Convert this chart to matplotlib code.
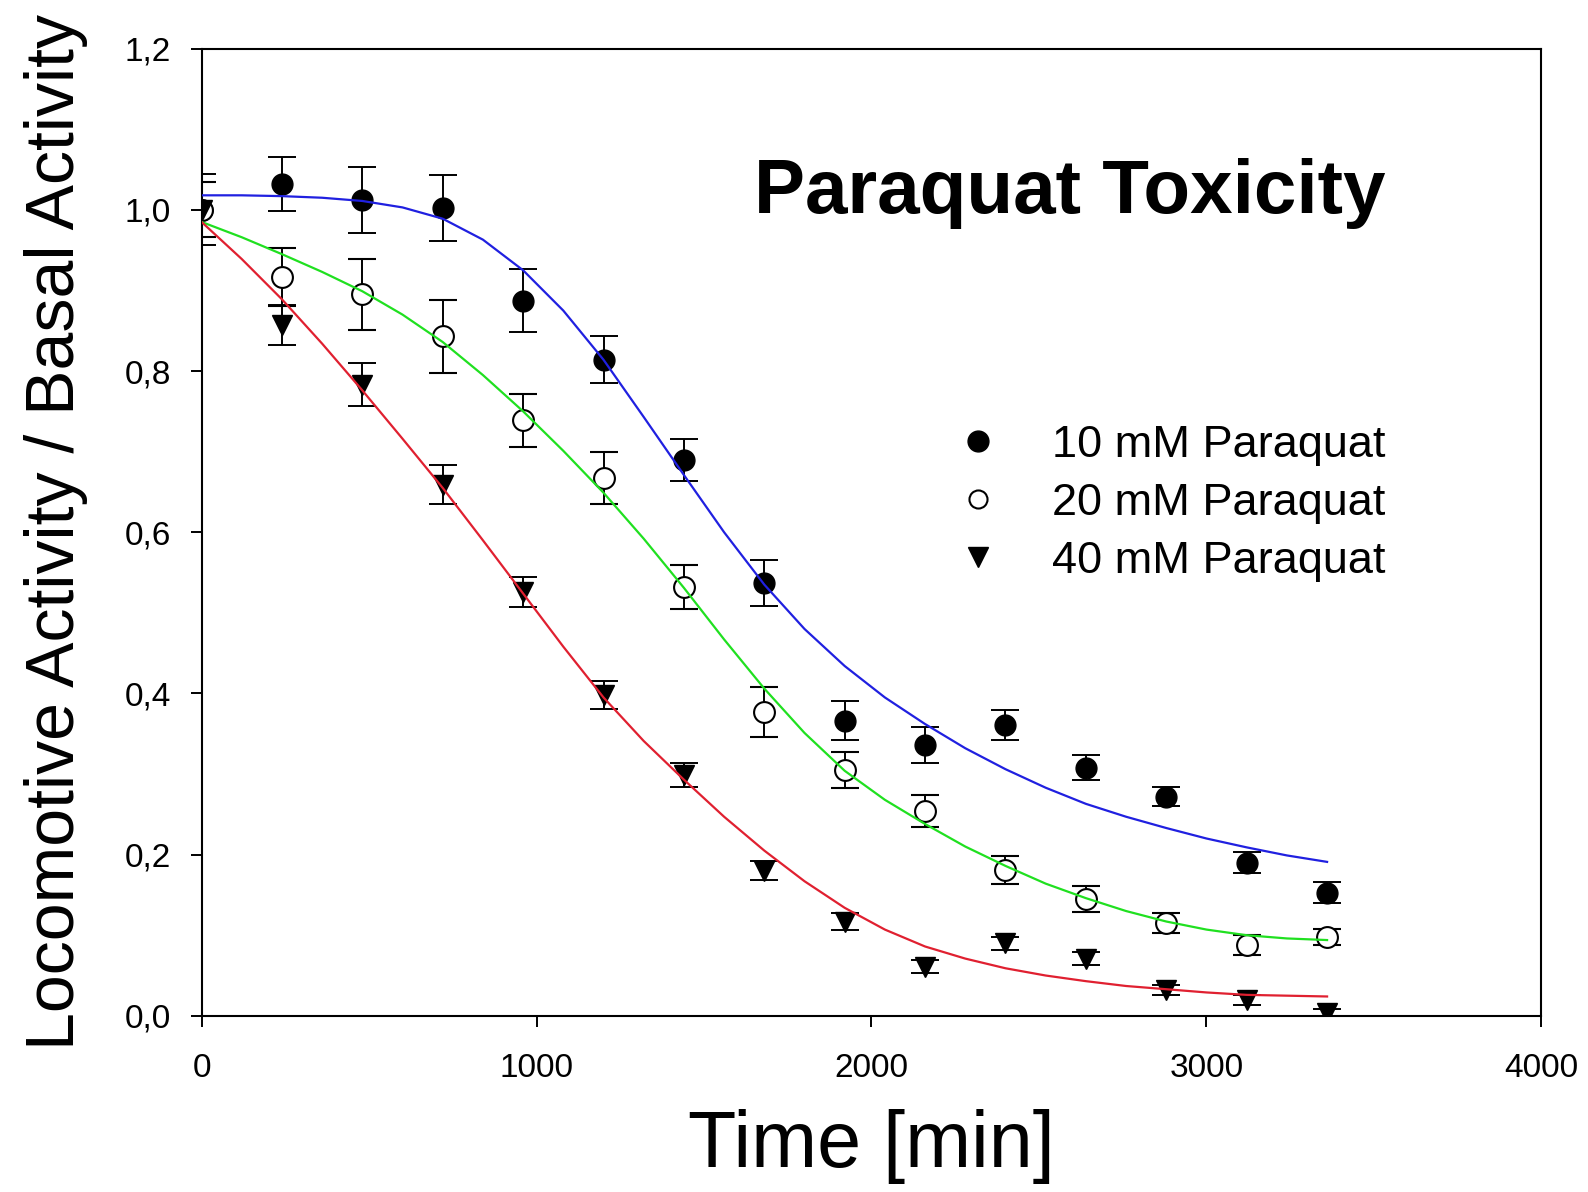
import matplotlib
matplotlib.use("Agg")
import matplotlib.pyplot as plt
from matplotlib.ticker import FuncFormatter
from matplotlib.lines import Line2D

plt.rcParams['font.family'] = ['Liberation Sans', 'DejaVu Sans']

# measurement times (min)
time = [0, 240, 480, 720, 960, 1200, 1440, 1680, 1920, 2160, 2400, 2640, 2880, 3120, 3360]

# locomotive activity / basal activity, mean and error
act_10 = [1.000, 1.032, 1.012, 1.002, 0.887, 0.814, 0.690, 0.537, 0.366, 0.336, 0.361, 0.308, 0.272, 0.190, 0.153]
err_10 = [0.044, 0.034, 0.041, 0.041, 0.039, 0.029, 0.026, 0.028, 0.024, 0.022, 0.019, 0.015, 0.012, 0.013, 0.013]
act_20 = [1.000, 0.917, 0.895, 0.843, 0.739, 0.667, 0.532, 0.377, 0.305, 0.254, 0.181, 0.145, 0.115, 0.088, 0.098]
err_20 = [0.034, 0.036, 0.044, 0.045, 0.033, 0.032, 0.027, 0.031, 0.022, 0.020, 0.017, 0.016, 0.012, 0.012, 0.010]
act_40 = [1.000, 0.857, 0.783, 0.659, 0.526, 0.398, 0.299, 0.180, 0.117, 0.061, 0.090, 0.071, 0.032, 0.020, 0.003]
err_40 = [0.034, 0.025, 0.027, 0.024, 0.019, 0.017, 0.015, 0.012, 0.010, 0.008, 0.008, 0.008, 0.006, 0.006, 0.005]

# sigmoid fit curves (every 120 min)
fit_time = [0, 120, 240, 360, 480, 600, 720, 840, 960, 1080, 1200, 1320, 1440, 1560, 1680,
            1800, 1920, 2040, 2160, 2280, 2400, 2520, 2640, 2760, 2880, 3000, 3120, 3240, 3360]
fit_10 = [1.018, 1.018, 1.017, 1.015, 1.011, 1.003, 0.989, 0.963, 0.925, 0.875, 0.814, 0.743, 0.671, 0.600, 0.535,
          0.480, 0.434, 0.395, 0.362, 0.332, 0.306, 0.283, 0.263, 0.247, 0.233, 0.220, 0.209, 0.199, 0.191]
fit_20 = [0.985, 0.966, 0.945, 0.923, 0.899, 0.870, 0.836, 0.795, 0.750, 0.701, 0.649, 0.592, 0.531, 0.467, 0.406,
          0.351, 0.304, 0.268, 0.238, 0.210, 0.186, 0.164, 0.146, 0.130, 0.117, 0.107, 0.100, 0.096, 0.094]
fit_40 = [0.985, 0.939, 0.889, 0.834, 0.776, 0.716, 0.655, 0.590, 0.524, 0.458, 0.395, 0.341, 0.293, 0.247, 0.205,
          0.167, 0.134, 0.107, 0.086, 0.071, 0.059, 0.050, 0.043, 0.037, 0.033, 0.029, 0.026, 0.025, 0.024]

labels = ['10 mM Paraquat', '20 mM Paraquat', '40 mM Paraquat']

fig = plt.figure(figsize=(15.88, 11.92), dpi=100)
ax = fig.add_axes([0.1269, 0.1478, 0.8438, 0.8114])

ms = 15
ebkw = dict(ecolor='black', elinewidth=1.4, capsize=10, capthick=1.4, linestyle='none', zorder=2)
ax.errorbar(time, act_10, yerr=err_10, marker='o', ms=ms, mfc='black', mec='black', **ebkw)
ax.errorbar(time, act_20, yerr=err_20, marker='o', ms=ms, mfc='white', mec='black', mew=1.5, **ebkw)
ax.errorbar(time, act_40, yerr=err_40, marker='v', ms=ms, mfc='black', mec='black', **ebkw)

ax.plot(fit_time, fit_10, color='#2020e0', lw=1.6, zorder=3)
ax.plot(fit_time, fit_20, color='#20e020', lw=1.6, zorder=3)
ax.plot(fit_time, fit_40, color='#e02030', lw=1.6, zorder=3)

ax.set_xlim(0, 4000)
ax.set_ylim(0, 1.2)
ax.set_xticks([0, 1000, 2000, 3000, 4000])
ax.set_yticks([0.0, 0.2, 0.4, 0.6, 0.8, 1.0, 1.2])
ax.yaxis.set_major_formatter(FuncFormatter(lambda v, p: f"{v:.1f}".replace('.', ',')))
ax.tick_params(direction='out', length=8, width=1.4, labelsize=24, colors='black')
ax.tick_params(axis='y', pad=14)
ax.tick_params(axis='x', pad=19)
for s in ax.spines.values():
    s.set_linewidth(1.5)

ax.set_xlabel('Time [min]', fontsize=57, labelpad=18)
ax.set_ylabel('Locomotive Activity / Basal Activity', fontsize=49, labelpad=26)

ax.text(0.648, 0.830, 'Paraquat Toxicity', transform=ax.transAxes, ha='center', va='baseline',
        fontsize=55, fontweight='bold')

handles = [
    Line2D([], [], marker='o', ls='none', ms=ms, mfc='black', mec='black'),
    Line2D([], [], marker='o', ls='none', ms=ms - 2, mfc='white', mec='black', mew=1.5),
    Line2D([], [], marker='v', ls='none', ms=ms, mfc='black', mec='black'),
]
ax.legend(handles, labels, loc='upper left', bbox_to_anchor=(0.566, 0.611), frameon=False,
          fontsize=32.5, handlelength=0.8, handletextpad=1.25, labelspacing=0.38,
          borderpad=0, borderaxespad=0)

fig.savefig('out.png', dpi=100)
